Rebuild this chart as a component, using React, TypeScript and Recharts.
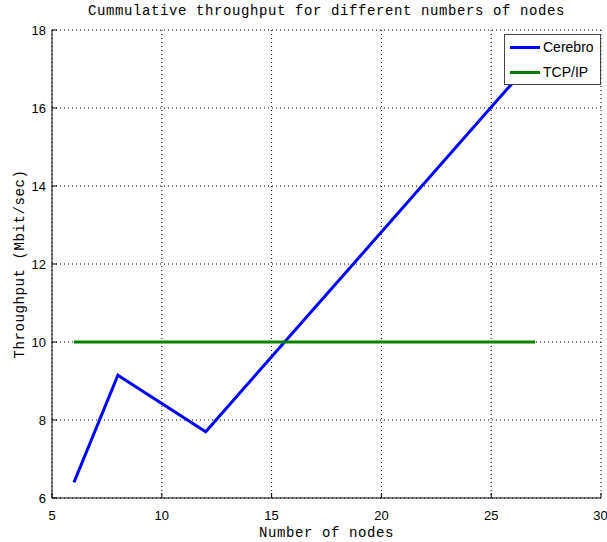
import { LineChart, Line, XAxis, YAxis, CartesianGrid, Legend } from "recharts"

// number of nodes sampled
const nodes = [6, 8, 12, 27]
// throughput in Mbit/sec
const cerebro = [6.4, 9.15, 7.7, 17.3]
const tcpip = [10, 10, 10, 10]

const xTicks = [5, 10, 15, 20, 25, 30]
const yTicks = [6, 8, 10, 12, 14, 16, 18]

const data = nodes.map((n, i) => ({ nodes: n, cerebro: cerebro[i], tcpip: tcpip[i] }))

const mono = "'Liberation Mono', 'DejaVu Sans Mono', monospace"
const sans = "'Liberation Sans', Arial, sans-serif"

const tickStyle = { fill: "#000", fontSize: 13, fontFamily: sans }
const axisLine = { stroke: "#000", strokeWidth: 1 }

function LegendBox({ payload }: any) {
  return (
    <div
      style={{
        width: 95,
        height: 49,
        border: "1px solid #444",
        background: "#fff",
        fontFamily: sans,
        fontSize: 14,
        color: "#000",
        position: "relative",
      }}
    >
      {(payload || []).map((p: any, i: number) => (
        <div
          key={p.value}
          style={{ position: "absolute", left: 5, top: 3 + i * 25, height: 18, display: "flex", alignItems: "center" }}
        >
          <span style={{ display: "inline-block", width: 30, height: 3, background: p.color, marginRight: 3 }} />
          <span>{p.value}</span>
        </div>
      ))}
    </div>
  )
}

export default function App() {
  return (
    <div style={{ position: "absolute", left: 0, top: 0, width: 607, height: 542, background: "#fff" }}>
      <div
        style={{
          position: "absolute",
          left: 52,
          width: 549,
          top: 3,
          textAlign: "center",
          fontFamily: mono,
          fontSize: 14,
          letterSpacing: 0.6,
          color: "#000",
        }}
      >
        Cummulative throughput for different numbers of nodes
      </div>
      <div
        style={{
          position: "absolute",
          left: 52,
          width: 549,
          top: 525,
          textAlign: "center",
          fontFamily: mono,
          fontSize: 14,
          letterSpacing: 0.6,
          color: "#000",
        }}
      >
        Number of nodes
      </div>
      <div
        style={{
          position: "absolute",
          left: 20,
          top: 264,
          width: 0,
          height: 0,
        }}
      >
        <div
          style={{
            position: "absolute",
            transform: "translate(-50%, -50%) rotate(-90deg)",
            whiteSpace: "nowrap",
            fontFamily: mono,
            fontSize: 14,
            letterSpacing: 0.6,
            color: "#000",
          }}
        >
          Throughput (Mbit/sec)
        </div>
      </div>
      <div style={{ position: "absolute", left: 0, top: 0 }}>
        <LineChart width={607} height={542} data={data} margin={{ top: 30, right: 6, bottom: 0, left: 0 }}>
          <CartesianGrid stroke="#000" strokeDasharray="1 3" />
          <XAxis
            dataKey="nodes"
            type="number"
            domain={[5, 30]}
            ticks={xTicks}
            height={44}
            tickSize={-5}
            tickMargin={18}
            tick={tickStyle}
            axisLine={axisLine}
            tickLine={axisLine}
          />
          <XAxis
            xAxisId="top"
            orientation="top"
            type="number"
            domain={[5, 30]}
            ticks={xTicks}
            height={0}
            tickSize={-5}
            tickFormatter={() => ""}
            axisLine={axisLine}
            tickLine={axisLine}
          />
          <YAxis
            type="number"
            domain={[6, 18]}
            ticks={yTicks}
            width={52}
            tickSize={-5}
            tickMargin={11}
            tick={tickStyle}
            axisLine={axisLine}
            tickLine={axisLine}
          />
          <YAxis
            yAxisId="right"
            orientation="right"
            type="number"
            domain={[6, 18]}
            ticks={yTicks}
            width={0}
            tickSize={-5}
            tickFormatter={() => ""}
            axisLine={axisLine}
            tickLine={axisLine}
          />
          <Line
            dataKey="cerebro"
            name="Cerebro"
            type="linear"
            stroke="#0000ff"
            strokeWidth={3}
            dot={false}
            isAnimationActive={false}
          />
          <Line
            dataKey="tcpip"
            name="TCP/IP"
            type="linear"
            stroke="#008000"
            strokeWidth={3}
            dot={false}
            isAnimationActive={false}
          />
          <Legend
            layout="vertical"
            align="center"
            verticalAlign="middle"
            content={<LegendBox />}
            wrapperStyle={{ left: 504, top: 34, width: 97, height: 51 }}
          />
        </LineChart>
      </div>
    </div>
  )
}
